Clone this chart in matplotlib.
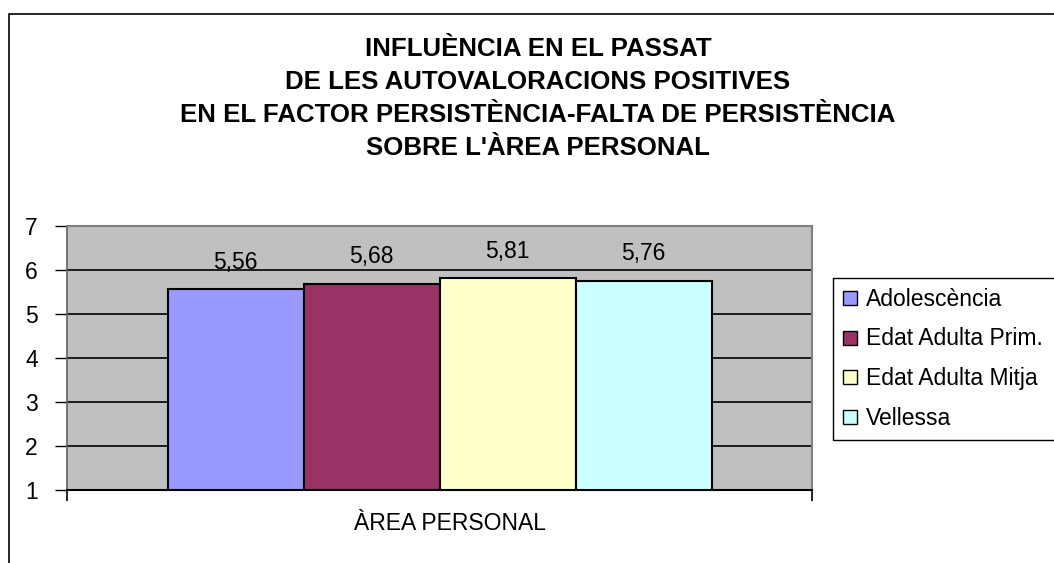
import matplotlib
matplotlib.use("Agg")
import matplotlib.pyplot as plt
from matplotlib.patches import Rectangle

plt.rcParams['font.family'] = ['Liberation Sans', 'DejaVu Sans']

title_lines = ["INFLUÈNCIA EN EL PASSAT",
               "DE LES AUTOVALORACIONS POSITIVES",
               "EN EL FACTOR PERSISTÈNCIA-FALTA DE PERSISTÈNCIA",
               "SOBRE L'ÀREA PERSONAL"]
category = "ÀREA PERSONAL"
series = ["Adolescència", "Edat Adulta Prim.", "Edat Adulta Mitja", "Vellessa"]
values = [5.56, 5.68, 5.81, 5.76]
labels = ["5,56", "5,68", "5,81", "5,76"]
colors = ["#9999FF", "#993366", "#FFFFCC", "#CCFFFF"]
yticks = [1, 2, 3, 4, 5, 6, 7]

W, H = 1054, 563
fig = plt.figure(figsize=(W/100, H/100), dpi=100)

# outer chart frame (cut off at right and bottom)
fig.patches.append(Rectangle((9/W, -0.05), 1.2, 1 - 14/H + 0.05, transform=fig.transFigure,
                             fill=False, edgecolor='black', linewidth=1.2))

ax = fig.add_axes([67/W, 1 - 490/H, (812-67)/W, (490-226)/H])
ax.set_facecolor('#C0C0C0')
ax.set_xlim(-0.5, 0.5)
ax.set_ylim(1, 7)

bw = 136/745
n = len(values)
offsets = [(i - (n-1)/2) * bw for i in range(n)]
for off, v, c, lab, s in zip(offsets, values, colors, labels, series):
    ax.bar(off, v - 1, bottom=1, width=bw, color=c, edgecolor='black', linewidth=1.5, label=s, zorder=3)
    ax.text(off, v + 0.62, lab, ha='center', va='center', fontsize=16.5, zorder=4)

ax.set_yticks(yticks)
ax.yaxis.grid(True, color='black', linewidth=1.2, zorder=1)
ax.set_axisbelow(True)
ax.tick_params(axis='y', labelsize=16.5, length=9, width=1, direction='out', pad=12)
ax.set_xticks([-0.5, 0.5])
ax.set_xticklabels(['', ''])
ax.tick_params(axis='x', length=8, width=1.2, direction='out')
for s in ['top', 'right']:
    ax.spines[s].set_color('#808080')
    ax.spines[s].set_linewidth(1.5)
ax.spines['left'].set_color('#606060')
ax.spines['left'].set_linewidth(1.2)
ax.spines['bottom'].set_color('black')
ax.spines['bottom'].set_linewidth(1.5)

fig.text(450/W, 1 - 523/H, category, ha='center', va='center', fontsize=16.5)

for i, line in enumerate(title_lines):
    fig.text(538/W, 1 - (49 + i*33)/H, line, ha='center', va='center',
             fontsize=18.6, fontweight='bold')

# legend
lx0, ly0, ly1 = 833, 278, 440
fig.patches.append(Rectangle((lx0/W, 1 - ly1/H), 0.5, (ly1-ly0)/H, transform=fig.transFigure,
                             fill=True, facecolor='white', edgecolor='black', linewidth=1))
for i, (s, c) in enumerate(zip(series, colors)):
    yc = 299 + i * 39.7
    fig.patches.append(Rectangle((843/W, 1 - (yc + 6)/H), 14/W, 14/H, transform=fig.transFigure,
                                 facecolor=c, edgecolor='black', linewidth=1))
    fig.text(866/W, 1 - yc/H, s, ha='left', va='center', fontsize=16.5)

fig.savefig('out.png', dpi=100)
